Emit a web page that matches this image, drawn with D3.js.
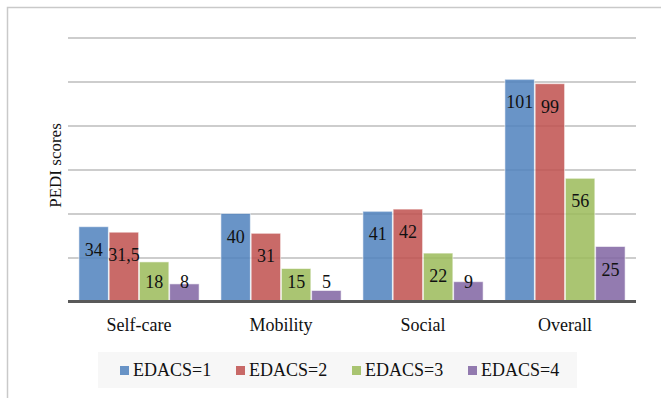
<!DOCTYPE html>
<html>
<head>
<meta charset="utf-8">
<script src="https://cdn.jsdelivr.net/npm/d3@7"></script>
<style>
  html, body { margin: 0; padding: 0; background: #fff; }
  svg { display: block; }
</style>
</head>
<body>
<svg id="chart" width="661" height="398"></svg>
<script>
// PEDI domain scores by EDACS level
const categories = ["Self-care", "Mobility", "Social", "Overall"];
const series = ["EDACS=1", "EDACS=2", "EDACS=3", "EDACS=4"];
const edacs1 = [34, 40, 41, 101];
const edacs2 = [31.5, 31, 42, 99];
const edacs3 = [18, 15, 22, 56];
const edacs4 = [8, 5, 9, 25];
const gridTicks = [20, 40, 60, 80, 100, 120];
const colors = ["#4F81BD", "#C0504D", "#9BBB59", "#8064A2"];

const seriesValues = [edacs1, edacs2, edacs3, edacs4];
const rows = categories.map((c, i) => ({
  category: c,
  values: series.map((s, j) => ({ series: s, idx: j, value: seriesValues[j][i] }))
}));

const serif = "'Liberation Serif', 'DejaVu Serif', serif";
const svg = d3.select("#chart");
const plot = { left: 68, right: 636, top: 37.5, bottom: 301.5 };

// chart frame
svg.append("rect")
  .attr("x", 7.5).attr("y", 7.5)
  .attr("width", 700).attr("height", 500)
  .attr("fill", "#fff")
  .attr("stroke", "#c9c9c9").attr("stroke-width", 1.5);

const y = d3.scaleLinear().domain([0, 120]).range([plot.bottom, plot.top]);
const x0 = d3.scaleBand().domain(categories).range([plot.left, plot.right]);
const x1 = d3.scaleBand().domain(series).range([10.5, x0.bandwidth() - 10.5]);
const color = d3.scaleOrdinal().domain(series).range(colors);

// horizontal gridlines
const grid = svg.append("g")
  .attr("transform", `translate(${plot.left},0)`)
  .call(d3.axisLeft(y).tickValues(gridTicks).tickSize(-(plot.right - plot.left)).tickFormat(""));
grid.select(".domain").remove();
grid.selectAll("line").attr("stroke", "#bdbdbd").attr("stroke-width", 1.5);

// bars
const groups = svg.append("g").selectAll("g")
  .data(rows).join("g")
  .attr("transform", d => `translate(${x0(d.category)},0)`);

groups.selectAll("rect")
  .data(d => d.values).join("rect")
  .attr("x", d => x1(d.series) + 0.4)
  .attr("y", d => y(d.value))
  .attr("width", x1.bandwidth() - 0.8)
  .attr("height", d => y(0) - y(d.value))
  .attr("fill", d => color(d.series))
  .attr("fill-opacity", 0.85)
  .attr("stroke", "#fff")
  .attr("stroke-opacity", 0.55)
  .attr("stroke-width", 1);

// value labels, comma as decimal separator
const fmt = d3.formatLocale({ decimal: ",", thousands: " ", grouping: [3], currency: ["", ""] }).format("~r");
groups.selectAll("text")
  .data(d => d.values).join("text")
  .attr("x", d => x1(d.series) + x1.bandwidth() / 2)
  .attr("y", d => Math.min(y(d.value) + 29, y(0) - 14))
  .attr("text-anchor", "middle")
  .style("font-family", serif)
  .style("font-size", "18px")
  .attr("fill", "#111")
  .text(d => fmt(d.value));

// baseline
svg.append("line")
  .attr("x1", plot.left).attr("x2", plot.right)
  .attr("y1", y(0)).attr("y2", y(0))
  .attr("stroke", "#595959").attr("stroke-width", 3);

// category axis labels
const xAxis = svg.append("g")
  .attr("transform", `translate(0,${plot.bottom})`)
  .call(d3.axisBottom(x0).tickSize(0).tickPadding(0));
xAxis.select(".domain").remove();
xAxis.selectAll("text")
  .attr("dy", null)
  .attr("y", 29.5)
  .style("font-family", serif)
  .style("font-size", "18px")
  .attr("fill", "#111");

// y-axis title
svg.append("text")
  .attr("transform", `translate(61,${(plot.top + plot.bottom) / 2 - 4}) rotate(-90)`)
  .attr("text-anchor", "middle")
  .style("font-family", serif)
  .style("font-size", "17px")
  .attr("fill", "#111")
  .text("PEDI scores");

// legend
const legend = svg.append("g");
legend.append("rect")
  .attr("x", 98).attr("y", 352)
  .attr("width", 479).attr("height", 36)
  .attr("fill", "#f7f7f7");
const legendX = d3.scalePoint().domain(series).range([120, 468]);
const items = legend.selectAll("g.item")
  .data(series).join("g")
  .attr("class", "item")
  .attr("transform", d => `translate(${legendX(d)},0)`);
items.append("rect")
  .attr("x", 0).attr("y", 366)
  .attr("width", 9).attr("height", 9)
  .attr("fill", d => color(d))
  .attr("fill-opacity", 0.85);
items.append("text")
  .attr("x", 13).attr("y", 376)
  .style("font-family", serif)
  .style("font-size", "18px")
  .attr("fill", "#111")
  .text(d => d);
</script>
</body>
</html>
